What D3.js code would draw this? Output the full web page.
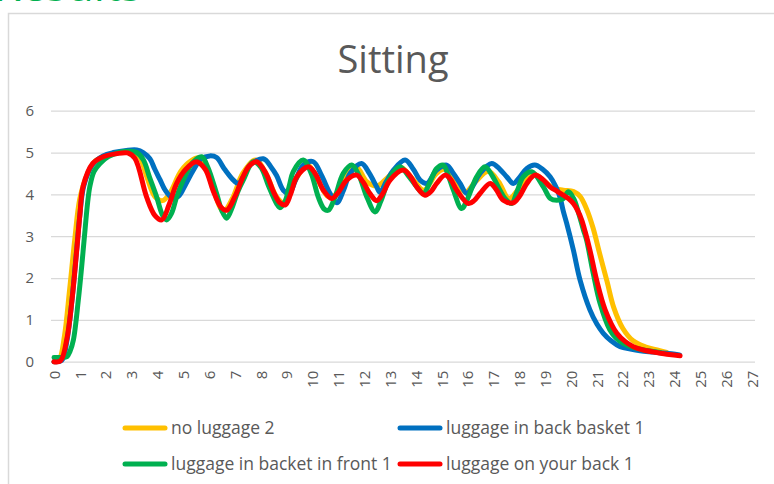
<!DOCTYPE html>
<html>
<head>
<meta charset="utf-8">
<script src="https://cdn.jsdelivr.net/npm/d3@7"></script>
<style>
	body { margin: 0; background: #fff; }
	text { font-family: "Open Sans", sans-serif; fill: #595959; }
</style>
</head>
<body>
<div id="wrapper"></div>
<script>
// series values (x = time, y = value)
const noLuggageX = [0,0.2,0.4,0.6,0.8,1.0,1.3,1.6,2.0,2.5,3.0,3.3,3.6,3.9,4.2,4.5,4.9,5.3,5.6,5.9,6.2,6.55,6.9,7.3,7.8,8.2,8.6,8.9,9.3,9.8,10.2,10.6,10.9,11.3,11.7,12.1,12.5,12.9,13.4,13.9,14.3,14.8,15.1,15.5,15.9,16.3,16.8,17.2,17.6,18.0,18.5,18.9,19.3,19.7,20.1,20.35,20.6,20.85,21.1,21.4,21.65,22.0,22.4,22.9,23.4,23.7];
const noLuggageY = [0,0.05,0.6,1.7,2.9,3.9,4.5,4.8,4.93,5.0,5.0,4.9,4.4,3.95,3.85,4.05,4.55,4.8,4.87,4.6,4.05,3.6,3.9,4.5,4.82,4.5,3.95,3.8,4.3,4.7,4.35,3.95,4.0,4.45,4.65,4.3,4.2,4.4,4.65,4.35,4.1,4.5,4.6,4.4,4.05,4.3,4.55,4.3,3.9,4.15,4.5,4.35,4.15,4.1,4.07,3.95,3.65,3.2,2.6,1.9,1.3,0.8,0.5,0.35,0.27,0.22];

const backBasketX = [0,0.3,0.5,0.7,0.88,1.0,1.15,1.5,1.9,2.3,2.8,3.2,3.45,3.71,3.9,4.1,4.3,4.55,4.81,5.1,5.39,5.7,6.03,6.29,6.6,6.94,7.13,7.35,7.58,8.1,8.4,8.61,8.87,9.1,9.35,9.64,10.03,10.35,10.68,10.94,11.2,11.45,11.9,12.2,12.48,12.61,12.85,13.13,13.58,13.9,14.16,14.42,14.8,15.19,15.45,15.71,15.97,16.2,16.48,16.93,17.25,17.51,17.77,18.0,18.29,18.6,18.9,19.19,19.4,19.57,19.7,19.83,20.09,20.35,20.73,21.0,21.25,21.55,21.9,22.3,22.67,23.2,23.7,24.2];
const backBasketY = [0,0.03,0.5,1.5,2.7,3.5,4.2,4.72,4.92,5.0,5.05,5.06,5.0,4.85,4.6,4.35,4.1,3.93,3.95,4.25,4.58,4.85,4.92,4.88,4.6,4.34,4.26,4.45,4.7,4.85,4.65,4.45,4.1,4.02,4.35,4.7,4.78,4.45,4.02,3.8,4.1,4.5,4.74,4.5,4.18,4.05,4.3,4.58,4.82,4.6,4.34,4.26,4.58,4.7,4.5,4.26,4.02,4.2,4.5,4.74,4.6,4.42,4.26,4.4,4.62,4.7,4.6,4.42,4.2,3.94,3.6,3.31,2.67,1.95,1.24,0.9,0.68,0.5,0.36,0.3,0.26,0.23,0.2,0.16];

const frontBasketX = [0,0.3,0.5,0.62,0.75,0.94,1.07,1.2,1.3,1.39,1.55,1.78,2.1,2.5,2.9,3.2,3.46,3.7,3.97,4.2,4.36,4.55,4.75,5.0,5.35,5.71,5.95,6.29,6.5,6.68,6.9,7.1,7.32,7.71,8.0,8.3,8.61,8.74,8.95,9.1,9.26,9.64,9.95,10.22,10.45,10.61,10.85,11.19,11.52,11.8,12.1,12.42,12.65,13.0,13.38,13.7,14.03,14.29,14.55,14.8,15.06,15.25,15.45,15.77,16.0,16.35,16.67,16.95,17.25,17.45,17.7,17.9,18.15,18.48,18.93,19.2,19.45,19.7,19.9,20.1,20.28,20.48,20.6,20.86,21.12,21.5,21.75,22.02,22.4,22.8,23.44];
const frontBasketY = [0.1,0.1,0.12,0.25,0.52,1.47,2.27,3.15,3.8,4.2,4.55,4.74,4.9,5.0,5.03,5.0,4.82,4.4,3.94,3.5,3.39,3.55,3.95,4.34,4.75,4.9,4.65,4.02,3.6,3.43,3.7,4.05,4.34,4.78,4.65,4.2,3.78,3.68,3.85,4.2,4.55,4.82,4.5,3.94,3.65,3.62,3.9,4.5,4.7,4.45,3.94,3.58,3.85,4.42,4.66,4.45,4.18,4.02,4.3,4.62,4.7,4.45,4.1,3.66,3.9,4.42,4.66,4.45,4.1,3.9,3.78,4.05,4.42,4.54,4.18,3.9,3.86,3.9,4.06,3.9,3.58,3.15,2.91,2.11,1.4,0.76,0.56,0.44,0.34,0.28,0.22];

const onBackX = [0,0.25,0.5,0.7,0.88,1.0,1.13,1.5,1.9,2.4,2.85,3.13,3.58,3.9,4.17,4.45,4.75,5.1,5.5,5.85,6.15,6.45,6.68,7.0,7.31,7.55,7.84,8.2,8.5,8.74,8.95,9.15,9.39,9.84,10.1,10.42,10.74,11.0,11.32,11.71,11.95,12.22,12.48,12.7,13.0,13.51,13.8,14.03,14.35,14.6,14.8,15.13,15.35,15.58,16.03,16.25,16.48,16.87,17.1,17.38,17.77,18.0,18.29,18.6,18.9,19.19,19.45,19.7,19.9,20.09,20.25,20.41,20.55,20.73,20.99,21.32,21.77,22.1,22.41,22.8,23.31,23.8,24.22];
const onBackY = [0,0.02,0.55,1.5,2.67,3.5,4.2,4.74,4.9,4.97,4.99,4.86,3.94,3.5,3.39,3.75,4.27,4.6,4.78,4.6,4.1,3.7,3.62,3.95,4.42,4.68,4.78,4.5,4.05,3.8,3.75,4.0,4.42,4.66,4.5,4.1,3.9,4.05,4.34,4.46,4.3,4.02,3.85,4.0,4.34,4.58,4.42,4.18,3.98,4.08,4.26,4.46,4.35,4.1,3.78,3.85,4.02,4.26,4.12,3.86,3.8,3.95,4.26,4.46,4.36,4.18,4.08,3.98,3.9,3.78,3.62,3.39,3.1,2.67,1.95,1.24,0.68,0.48,0.36,0.28,0.22,0.17,0.14];

const seriesNames = ["no luggage 2", "luggage in back basket 1", "luggage in backet in front 1", "luggage on your back 1"];
const seriesColors = ["#FFC000", "#0070C0", "#00B050", "#FF0000"];
const seriesX = [noLuggageX, backBasketX, frontBasketX, onBackX];
const seriesY = [noLuggageY, backBasketY, frontBasketY, onBackY];

const xTicks = d3.range(0, 28);
const yTicks = [0, 1, 2, 3, 4, 5, 6];

// dimensions
let dimensions = {
	width: 774,
	height: 484,
	plotLeft: 54,
	plotRight: 752,
	plotTop: 110.7,
	plotBottom: 361.7
};

const svg = d3.select("#wrapper")
	.append("svg")
	.attr("width", dimensions.width)
	.attr("height", dimensions.height);

// heading above the chart, cut off by the top edge as in the source
svg.append("text")
	.attr("x", -6)
	.attr("y", 1)
	.style("font-size", "44px")
	.style("fill", "#00B050")
	.text("Results");

// chart frame
svg.append("path")
	.attr("d", `M8.5,${dimensions.height} V13.5 H${dimensions.width}`)
	.attr("fill", "none")
	.attr("stroke", "#d9d9d9")
	.attr("stroke-width", 1.5);

// scales
const xScale = d3.scaleLinear()
	.domain([0, 27])
	.range([dimensions.plotLeft, dimensions.plotRight]);

const yScale = d3.scaleLinear()
	.domain([0, 6])
	.range([dimensions.plotBottom, dimensions.plotTop]);

// gridlines + y labels
const yAxisGen = d3.axisLeft(yScale)
	.tickValues(yTicks)
	.tickFormat(d3.format("d"))
	.tickSize(-(755 - 51))
	.tickPadding(17);

const yAxis = svg.append("g")
	.attr("transform", `translate(51,0)`)
	.call(yAxisGen);
yAxis.select(".domain").remove();
yAxis.selectAll(".tick line").attr("stroke", "#d9d9d9").attr("stroke-width", 1.3);
yAxis.selectAll(".tick text")
	.style("font-size", "15px")
	.style("font-family", "Open Sans, sans-serif")
	.attr("fill", "#595959");

// x axis labels, rotated
const xAxisGen = d3.axisBottom(xScale)
	.tickValues(xTicks)
	.tickSize(0)
	.tickPadding(0);

const xAxis = svg.append("g")
	.attr("transform", `translate(0,${dimensions.plotBottom})`)
	.call(xAxisGen);
xAxis.select(".domain").remove();
xAxis.selectAll(".tick text")
	.attr("transform", "rotate(-90)")
	.attr("x", -9)
	.attr("y", 0)
	.attr("dy", "0.35em")
	.attr("text-anchor", "end")
	.style("font-size", "15px")
	.style("font-family", "Open Sans, sans-serif")
	.attr("fill", "#595959");

// title
svg.append("text")
	.attr("x", 393)
	.attr("y", 73)
	.attr("text-anchor", "middle")
	.style("font-size", "38px")
	.text("Sitting");

// lines
const lineGen = d3.line()
	.x(d => xScale(d[0]))
	.y(d => yScale(d[1]))
	.curve(d3.curveCatmullRom.alpha(0.5));

const lines = svg.append("g").attr("class", "lines");
seriesX.forEach((xs, i) => {
	const pts = xs.map((x, j) => [x, seriesY[i][j]]);
	lines.append("path")
		.attr("d", lineGen(pts))
		.attr("fill", "none")
		.attr("stroke", seriesColors[i])
		.attr("stroke-width", 5)
		.attr("stroke-linecap", "round")
		.attr("stroke-linejoin", "round");
});

// legend
const legendPos = [[125, 428], [400, 428], [125, 464], [400, 464]];
const legend = svg.append("g").attr("class", "legend");
seriesNames.forEach((name, i) => {
	const [lx, ly] = legendPos[i];
	legend.append("line")
		.attr("x1", lx).attr("x2", lx + 40)
		.attr("y1", ly).attr("y2", ly)
		.attr("stroke", seriesColors[i])
		.attr("stroke-width", 5)
		.attr("stroke-linecap", "round");
	legend.append("text")
		.attr("x", lx + 46)
		.attr("y", ly)
		.attr("dy", "0.35em")
		.style("font-size", "17.5px")
		.text(name);
});
</script>
</body>
</html>
